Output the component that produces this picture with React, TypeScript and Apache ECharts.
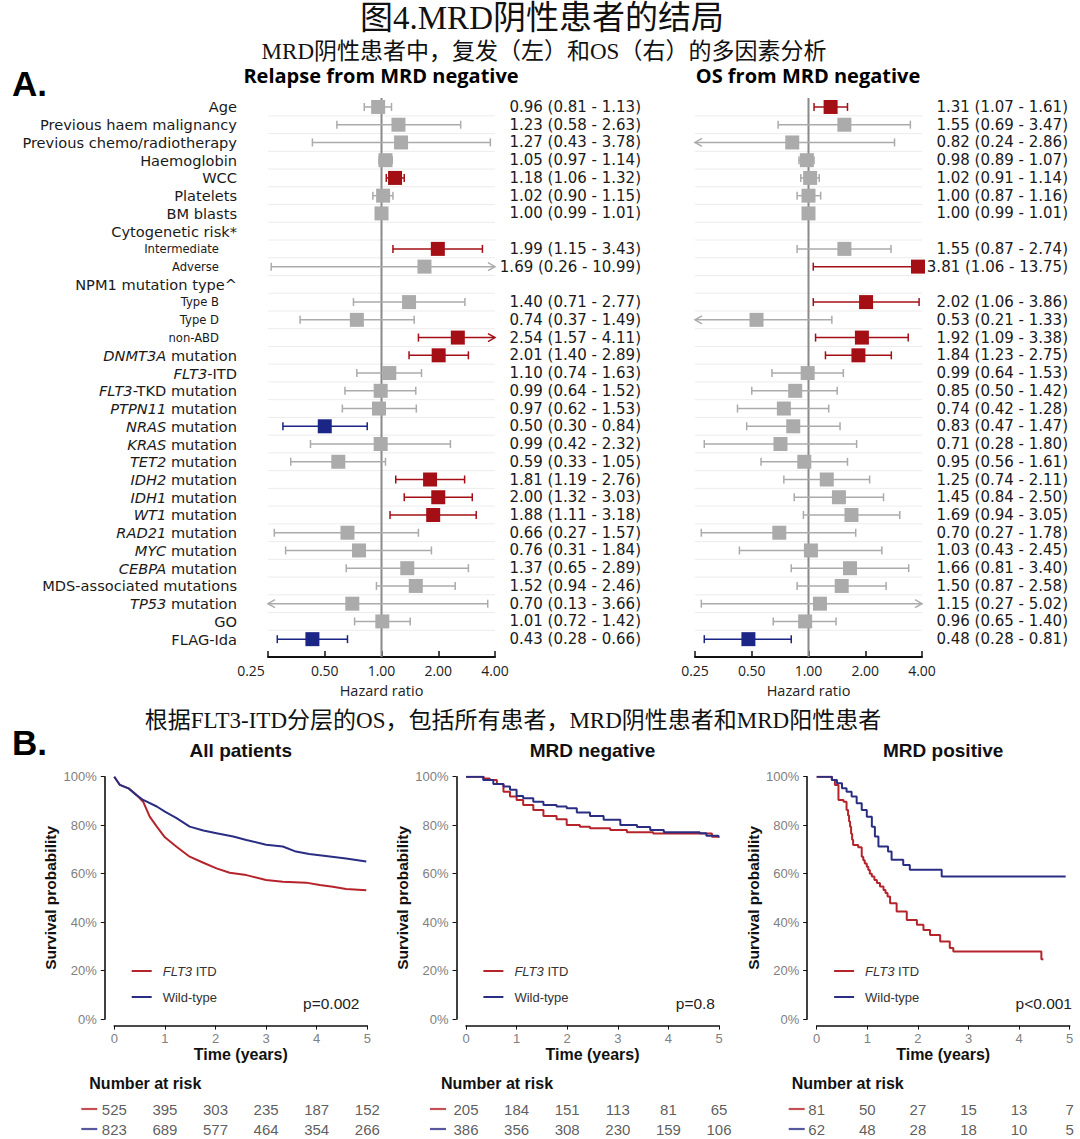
import React, { useEffect, useRef } from "react";
import * as echarts from "echarts";

// ---------------- Panel A data ----------------
const forestLabels = [
  "Age", "Previous haem malignancy", "Previous chemo/radiotherapy", "Haemoglobin", "WCC",
  "Platelets", "BM blasts", "Cytogenetic risk*", "Intermediate", "Adverse",
  "NPM1 mutation type^", "Type B", "Type D", "non-ABD", "{i|DNMT3A} mutation",
  "{i|FLT3}-ITD", "{i|FLT3}-TKD mutation", "{i|PTPN11} mutation", "{i|NRAS} mutation", "{i|KRAS} mutation",
  "{i|TET2} mutation", "{i|IDH2} mutation", "{i|IDH1} mutation", "{i|WT1} mutation", "{i|RAD21} mutation",
  "{i|MYC} mutation", "{i|CEBPA} mutation", "MDS-associated mutations", "{i|TP53} mutation", "GO", "FLAG-Ida",
];
// 1 = indented sub-group row
const labelLevel = [0,0,0,0,0,0,0,0,1,1,0,1,1,1,0,0,0,0,0,0,0,0,0,0,0,0,0,0,0,0,0];

const relapseHR = [0.96,1.23,1.27,1.05,1.18,1.02,1.00,null,1.99,1.69,null,1.40,0.74,2.54,2.01,1.10,0.99,0.97,0.50,0.99,0.59,1.81,2.00,1.88,0.66,0.76,1.37,1.52,0.70,1.01,0.43];
const relapseLo = [0.81,0.58,0.43,0.97,1.06,0.90,0.99,null,1.15,0.26,null,0.71,0.37,1.57,1.40,0.74,0.64,0.62,0.30,0.42,0.33,1.19,1.32,1.11,0.27,0.31,0.65,0.94,0.13,0.72,0.28];
const relapseHi = [1.13,2.63,3.78,1.14,1.32,1.15,1.01,null,3.43,10.99,null,2.77,1.49,4.11,2.89,1.63,1.52,1.53,0.84,2.32,1.05,2.76,3.03,3.18,1.57,1.84,2.89,2.46,3.66,1.42,0.66];

const osHR = [1.31,1.55,0.82,0.98,1.02,1.00,1.00,null,1.55,3.81,null,2.02,0.53,1.92,1.84,0.99,0.85,0.74,0.83,0.71,0.95,1.25,1.45,1.69,0.70,1.03,1.66,1.50,1.15,0.96,0.48];
const osLo = [1.07,0.69,0.24,0.89,0.91,0.87,0.99,null,0.87,1.06,null,1.06,0.21,1.09,1.23,0.64,0.50,0.42,0.47,0.28,0.56,0.74,0.84,0.94,0.27,0.43,0.81,0.87,0.27,0.65,0.28];
const osHi = [1.61,3.47,2.86,1.07,1.14,1.16,1.01,null,2.74,13.75,null,3.86,1.33,3.38,2.75,1.53,1.42,1.28,1.47,1.80,1.61,2.11,2.50,3.05,1.78,2.45,3.40,2.58,5.02,1.40,0.81];

const hrMin = 0.25;
const hrMax = 4;

// ---------------- Panel B data ----------------
const allItdT = [0,0.11,0.28,0.44,0.57,0.70,0.84,1.0,1.23,1.49,1.76,2.02,2.28,2.61,3.0,3.33,3.79,4.06,4.32,4.58,4.98];
const allItdS = [1,0.966,0.952,0.924,0.897,0.835,0.794,0.75,0.711,0.67,0.645,0.622,0.604,0.594,0.574,0.567,0.563,0.553,0.546,0.537,0.532];
const allWtT = [0,0.11,0.28,0.44,0.57,0.84,1.0,1.23,1.49,1.76,2.02,2.35,2.61,3.0,3.33,3.59,3.85,4.18,4.58,4.98];
const allWtS = [1,0.966,0.952,0.924,0.904,0.877,0.856,0.829,0.794,0.778,0.767,0.753,0.739,0.719,0.712,0.691,0.681,0.673,0.663,0.65];

const negItdT = [0,0.35,0.47,0.61,0.74,0.87,1.0,1.13,1.33,1.53,1.79,1.99,2.25,2.45,2.85,3.18,3.7,4.86,4.99];
const negItdS = [1,0.993,0.986,0.97,0.938,0.918,0.904,0.883,0.863,0.838,0.824,0.801,0.794,0.787,0.78,0.771,0.766,0.752,0.748];
const negWtT = [0,0.24,0.34,0.54,0.74,0.87,1.0,1.13,1.33,1.53,1.79,1.99,2.19,2.45,2.72,3.05,3.38,3.64,3.91,4.62,4.75,4.99];
const negWtS = [1,1,0.986,0.97,0.96,0.946,0.92,0.911,0.897,0.883,0.877,0.87,0.852,0.838,0.822,0.801,0.792,0.78,0.771,0.767,0.756,0.749];

const posItdT = [0,0.3,0.36,0.43,0.53,0.59,0.62,0.64,0.66,0.68,0.70,0.72,0.82,0.89,0.92,0.95,0.99,1.02,1.05,1.09,1.14,1.19,1.25,1.32,1.36,1.40,1.45,1.58,1.78,1.98,2.11,2.24,2.44,2.63,2.70,4.41,4.44,4.48];
const posItdS = [1,0.986,0.966,0.904,0.897,0.863,0.84,0.815,0.794,0.765,0.74,0.718,0.709,0.67,0.655,0.642,0.629,0.615,0.60,0.588,0.574,0.561,0.547,0.533,0.52,0.506,0.478,0.444,0.409,0.389,0.368,0.347,0.32,0.293,0.279,0.279,0.247,0.247];
const posWtT = [0,0.24,0.30,0.40,0.50,0.59,0.69,0.79,0.89,0.99,1.09,1.15,1.22,1.41,1.48,1.71,1.84,2.44,2.47,4.92];
const posWtS = [1,1,0.986,0.973,0.952,0.938,0.918,0.89,0.863,0.835,0.794,0.753,0.712,0.691,0.657,0.636,0.616,0.616,0.588,0.588];

const riskTimes = [0, 1, 2, 3, 4, 5];
const allRiskItd = [525, 395, 303, 235, 187, 152];
const allRiskWt = [823, 689, 577, 464, 354, 266];
const negRiskItd = [205, 184, 151, 113, 81, 65];
const negRiskWt = [386, 356, 308, 230, 159, 106];
const posRiskItd = [81, 50, 27, 15, 13, 7];
const posRiskWt = [62, 48, 28, 18, 10, 5];

const kmTitles = ["All patients", "MRD negative", "MRD positive"];
const pValues = ["p=0.002", "p=0.8", "p<0.001"];
const groupNames = ["FLT3 ITD", "Wild-type"];

// ---------------- styling ----------------
const F_RED = "#a30f15";
const F_BLUE = "#1b2585";
const F_GRAY = "#ababab";
const KM_RED = "#b5232b";
const KM_BLUE = "#2a2e83";
const SANS = '"Open Sans", "Noto Sans", sans-serif';
const VALF = '"DejaVu Sans", sans-serif';
const ARIAL = '"Liberation Sans", Arial, sans-serif';
const CJK = '"Liberation Serif", "Noto Sans CJK SC", serif';

const zip = (a: number[], b: number[]) => a.map((v, i) => [v, b[i]]);

function forestRender(hr: any[], lo: any[], hi: any[], withLabels: boolean) {
  return function (params: any, api: any) {
    const i = params.dataIndex;
    const cs = params.coordSys;
    const left = cs.x;
    const right = cs.x + cs.width;
    const y = api.coord([1, i])[1];
    const children: any[] = [];
    if (i === 0) {
      for (let k = 0; k < forestLabels.length - 1; k++) {
        const ys = api.coord([1, k + 0.5])[1];
        children.push({ type: "line", shape: { x1: left, y1: ys, x2: right, y2: ys }, style: { stroke: "#ececec", lineWidth: 1 } });
      }
      const xr = api.coord([1, 0])[0];
      children.push({ type: "line", shape: { x1: xr, y1: cs.y, x2: xr, y2: cs.y + cs.height }, style: { stroke: "#8a8a8a", lineWidth: 2 } });
    }
    if (withLabels) {
      const sub = labelLevel[i] === 1;
      children.push({
        type: "text", x: left - (sub ? 49 : 31), y,
        style: {
          text: forestLabels[i], fontSize: sub ? 11.6 : 14.6, lineHeight: 15, fontFamily: VALF, fill: "#1a1a1a",
          align: "right", verticalAlign: "middle",
          rich: { i: { fontStyle: "italic", fontSize: 14.6, lineHeight: 15, fontFamily: VALF, fill: "#1a1a1a" } },
        },
      });
    }
    const h = hr[i];
    if (h != null) {
      const l = lo[i];
      const u = hi[i];
      const color = l > 1 ? F_RED : u < 1 ? F_BLUE : F_GRAY;
      const pL = api.coord([Math.max(l, hrMin), i]);
      const pU = api.coord([Math.min(u, hrMax), i]);
      const pC = api.coord([h, i]);
      const ls = { stroke: color, lineWidth: 1.5 };
      children.push({ type: "line", shape: { x1: pL[0], y1: y, x2: pU[0], y2: y }, style: ls });
      if (l >= hrMin) {
        children.push({ type: "line", shape: { x1: pL[0], y1: y - 4, x2: pL[0], y2: y + 4 }, style: ls });
      } else {
        children.push({ type: "polyline", shape: { points: [[pL[0] + 7, y - 4], [pL[0], y], [pL[0] + 7, y + 4]] }, style: { ...ls, fill: null } });
      }
      if (u <= hrMax) {
        children.push({ type: "line", shape: { x1: pU[0], y1: y - 4, x2: pU[0], y2: y + 4 }, style: ls });
      } else {
        children.push({ type: "polyline", shape: { points: [[pU[0] - 7, y - 4], [pU[0], y], [pU[0] - 7, y + 4]] }, style: { ...ls, fill: null } });
      }
      const s = 14;
      children.push({ type: "rect", shape: { x: pC[0] - s / 2, y: y - s / 2, width: s, height: s }, style: { fill: color } });
      children.push({
        type: "text", x: right + 146, y,
        style: {
          text: `${h.toFixed(2)} (${l.toFixed(2)} - ${u.toFixed(2)})`,
          fontSize: 15, lineHeight: 15, fontFamily: VALF, fill: "#1a1a1a", align: "right", verticalAlign: "middle",
        },
      });
    }
    return { type: "group", children };
  };
}

function buildOption() {
  const forestTop = 98.1;
  const forestH = 558.8;
  const kmLeft = [114.3, 466, 816.7];
  const kmWidth = 253;
  const kmTop = 776.7;
  const kmH = 242.4;
  const dashOffset = [-25, -28, -20];
  const pRight = [359.5, 715, 1072];

  const grid: any[] = [
    { left: 268, top: forestTop, width: 227, height: forestH },
    { left: 695, top: forestTop, width: 227, height: forestH },
  ];
  const xAxis: any[] = [];
  const yAxis: any[] = [];
  for (let g = 0; g < 2; g++) {
    xAxis.push({
      type: "log", logBase: 2, gridIndex: g, min: hrMin, max: hrMax,
      axisLine: { show: true, onZero: false, lineStyle: { color: "#111", width: 2 } },
      axisTick: { show: true, inside: true, length: 6, lineStyle: { color: "#111", width: 1.5 } },
      axisLabel: {
        fontSize: 14, color: "#222", fontFamily: SANS, margin: 7,
        formatter: (v: number, idx: number) => (g === 0 && idx === 0 ? "{f|" + v.toFixed(2) + "}" : v.toFixed(2)),
        rich: { f: { fontSize: 14, color: "#222", fontFamily: SANS, padding: [0, 34, 0, 0] } },
      },
      splitLine: { show: false },
      name: "Hazard ratio", nameLocation: "middle", nameGap: 26,
      nameTextStyle: { fontSize: 14.5, color: "#222", fontFamily: SANS },
    });
    yAxis.push({ type: "value", gridIndex: g, min: -0.5, max: 31, inverse: true, show: false });
  }
  for (let k = 0; k < 3; k++) {
    grid.push({ left: kmLeft[k], top: kmTop, width: kmWidth, height: kmH });
    xAxis.push({
      type: "value", gridIndex: 2 + k, min: 0, max: 5, interval: 1, offset: 6.5,
      axisLine: { show: true, onZero: false, lineStyle: { color: "#111", width: 1.6 } },
      axisTick: { show: true, length: 4, lineStyle: { color: "#111" } },
      axisLabel: { fontSize: 13, color: "#808080", margin: 6, fontFamily: ARIAL },
      splitLine: { show: false },
      name: "Time (years)", nameLocation: "middle", nameGap: 21,
      nameTextStyle: { fontSize: 16, fontWeight: "bold", color: "#111", fontFamily: ARIAL },
    });
    yAxis.push({
      type: "value", gridIndex: 2 + k, min: 0, max: 1, interval: 0.2, offset: 9.5,
      axisLine: { show: true, onZero: false, lineStyle: { color: "#111", width: 1.6 } },
      axisTick: { show: true, length: 4, lineStyle: { color: "#111" } },
      axisLabel: { fontSize: 13, color: "#808080", margin: 8, fontFamily: ARIAL, formatter: (v: number) => Math.round(v * 100) + "%" },
      splitLine: { show: false },
      name: "Survival probability", nameLocation: "middle", nameGap: 46, nameRotate: 90,
      nameTextStyle: { fontSize: 15.5, fontWeight: "bold", color: "#111", fontFamily: ARIAL },
    });
  }
  for (let k = 0; k < 3; k++) {
    grid.push({ left: kmLeft[k], top: 1099, width: kmWidth, height: 41.4 });
    xAxis.push({ type: "value", gridIndex: 5 + k, min: 0, max: 5, show: false });
    yAxis.push({ type: "category", gridIndex: 5 + k, data: groupNames, inverse: true, show: false });
  }

  const series: any[] = [
    {
      type: "custom", xAxisIndex: 0, yAxisIndex: 0, silent: true,
      data: forestLabels.map((_, i) => [1, i]), encode: { x: 0, y: 1 },
      renderItem: forestRender(relapseHR, relapseLo, relapseHi, true),
    },
    {
      type: "custom", xAxisIndex: 1, yAxisIndex: 1, silent: true,
      data: forestLabels.map((_, i) => [1, i]), encode: { x: 0, y: 1 },
      renderItem: forestRender(osHR, osLo, osHi, false),
    },
  ];

  const curves = [
    [allItdT, allItdS, allWtT, allWtS, false],
    [negItdT, negItdS, negWtT, negWtS, "end"],
    [posItdT, posItdS, posWtT, posWtS, "end"],
  ] as any[];
  const risks = [
    [allRiskItd, allRiskWt],
    [negRiskItd, negRiskWt],
    [posRiskItd, posRiskWt],
  ];
  for (let k = 0; k < 3; k++) {
    const [tR, sR, tB, sB, step] = curves[k];
    series.push({
      type: "line", name: groupNames[0], xAxisIndex: 2 + k, yAxisIndex: 2 + k, data: zip(tR, sR),
      step, showSymbol: false, symbol: "none", silent: true,
      lineStyle: { color: KM_RED, width: 2 }, itemStyle: { color: KM_RED },
    });
    series.push({
      type: "line", name: groupNames[1], xAxisIndex: 2 + k, yAxisIndex: 2 + k, data: zip(tB, sB),
      step, showSymbol: false, symbol: "none", silent: true,
      lineStyle: { color: KM_BLUE, width: 2 }, itemStyle: { color: KM_BLUE },
    });
    risks[k].forEach((row, r) => {
      series.push({
        type: "scatter", name: "risk", xAxisIndex: 5 + k, yAxisIndex: 5 + k, silent: true,
        data: riskTimes.map((t, j) => [t, r, row[j]]),
        symbolSize: 1, itemStyle: { color: "rgba(0,0,0,0)" },
        label: { show: true, position: "inside", formatter: (p: any) => String(p.value[2]), fontSize: 15, color: "#333", fontFamily: ARIAL },
      });
    });
    series.push({
      type: "scatter", name: "dash", xAxisIndex: 5 + k, yAxisIndex: 5 + k, silent: true,
      data: [
        { value: [riskTimes[0], 0], itemStyle: { color: KM_RED } },
        { value: [riskTimes[0], 1], itemStyle: { color: KM_BLUE } },
      ],
      symbol: "rect", symbolSize: [16, 2.2], symbolOffset: [dashOffset[k], 0],
    });
  }

  const legend = kmLeft.map((gl) => ({
    data: groupNames, orient: "vertical", left: gl + 17.4, top: 963, padding: 0,
    itemWidth: 20, itemHeight: 2, itemGap: 10, icon: "rect", selectedMode: false,
    formatter: (n: string) => (n === groupNames[0] ? "{s| }{i|FLT3} ITD" : "{s| }" + n),
    textStyle: {
      fontSize: 13, color: "#333", fontFamily: ARIAL, lineHeight: 16,
      rich: {
        s: { width: 6, fontSize: 13, lineHeight: 16 },
        i: { fontStyle: "italic", fontSize: 13, color: "#333", fontFamily: ARIAL, lineHeight: 16 },
      },
    },
  }));

  const graphic: any[] = [
    { type: "text", x: 542, y: 18, style: { text: "图4.MRD阴性患者的结局", fontSize: 33, fontFamily: CJK, fill: "#111", align: "center", verticalAlign: "middle" } },
    { type: "text", x: 544, y: 51, style: { text: "MRD阴性患者中，复发（左）和OS（右）的多因素分析", fontSize: 23, fontFamily: CJK, fill: "#111", align: "center", verticalAlign: "middle" } },
    { type: "text", x: 12, y: 83, style: { text: "A.", fontSize: 35, fontWeight: "bold", fontFamily: ARIAL, fill: "#000", align: "left", verticalAlign: "middle" } },
    { type: "text", x: 381, y: 75, style: { text: "Relapse from MRD negative", fontSize: 20, fontWeight: "bold", fontFamily: SANS, fill: "#000", align: "center", verticalAlign: "middle" } },
    { type: "text", x: 808, y: 75, style: { text: "OS from MRD negative", fontSize: 20, fontWeight: "bold", fontFamily: SANS, fill: "#000", align: "center", verticalAlign: "middle" } },
    { type: "text", x: 513, y: 720, style: { text: "根据FLT3-ITD分层的OS，包括所有患者，MRD阴性患者和MRD阳性患者", fontSize: 23, fontFamily: CJK, fill: "#111", align: "center", verticalAlign: "middle" } },
    { type: "text", x: 12, y: 742, style: { text: "B.", fontSize: 35, fontWeight: "bold", fontFamily: ARIAL, fill: "#000", align: "left", verticalAlign: "middle" } },
  ];
  for (let k = 0; k < 3; k++) {
    graphic.push({ type: "text", x: kmLeft[k] + kmWidth / 2, y: 750.7, style: { text: kmTitles[k], fontSize: 19, fontWeight: "bold", fontFamily: ARIAL, fill: "#111", align: "center", verticalAlign: "middle" } });
    graphic.push({ type: "text", x: pRight[k], y: 1003, style: { text: pValues[k], fontSize: 15.5, fontFamily: ARIAL, fill: "#222", align: "right", verticalAlign: "middle" } });
    graphic.push({ type: "text", x: kmLeft[k] - 25, y: 1083.3, style: { text: "Number at risk", fontSize: 16, fontWeight: "bold", fontFamily: ARIAL, fill: "#111", align: "left", verticalAlign: "middle" } });
  }

  return {
    animation: false,
    backgroundColor: "#ffffff",
    grid, xAxis, yAxis, series, legend, graphic,
  };
}

export default function App() {
  const ref = useRef<HTMLDivElement>(null);
  useEffect(() => {
    document.body.style.margin = "0";
    const chart = echarts.init(ref.current as HTMLDivElement, null, { renderer: "svg" });
    chart.setOption(buildOption() as any);
    return () => chart.dispose();
  }, []);
  return <div ref={ref} style={{ width: 1080, height: 1139 }} />;
}
